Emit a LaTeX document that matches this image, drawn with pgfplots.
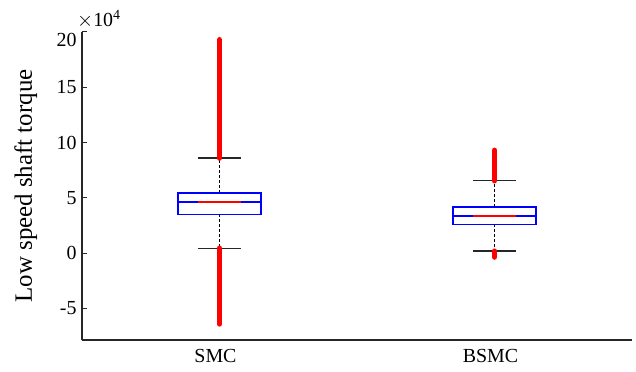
\documentclass[border=0pt]{standalone}
\usepackage{fontspec}
\setmainfont{Liberation Serif}
\usepackage{pgfplots}
\pgfplotsset{compat=1.18}
\usepgfplotslibrary{statistics}
\usetikzlibrary{calc}

\pgfplotsset{
  mybox/.style={
    /pgfplots/boxplot/draw direction=y,
    /pgfplots/boxplot/box extend=0.3,
    /pgfplots/boxplot/whisker extend=0.155,
    /pgfplots/boxplot/draw/median/.code={%
      \draw[draw=blue, line width=2bp] (boxplot box cs:\pgfplotsboxplotvalue{median},0) -- (boxplot box cs:\pgfplotsboxplotvalue{median},1);
      \draw[draw=red, line width=2bp] (boxplot whisker cs:\pgfplotsboxplotvalue{median},0) -- (boxplot whisker cs:\pgfplotsboxplotvalue{median},1);
    },
    /pgfplots/boxplot/draw/lower whisker/.code={%
      \draw[black, line width=1bp, dash pattern=on 3bp off 2bp] (boxplot cs:\pgfplotsboxplotvalue{lower quartile}) -- (boxplot cs:\pgfplotsboxplotvalue{lower whisker});
      \draw[black!85, line width=1.4bp] (boxplot whisker cs:\pgfplotsboxplotvalue{lower whisker},0) -- (boxplot whisker cs:\pgfplotsboxplotvalue{lower whisker},1);
    },
    /pgfplots/boxplot/draw/upper whisker/.code={%
      \draw[black, line width=1bp, dash pattern=on 3bp off 2bp] (boxplot cs:\pgfplotsboxplotvalue{upper quartile}) -- (boxplot cs:\pgfplotsboxplotvalue{upper whisker});
      \draw[black!85, line width=1.4bp] (boxplot whisker cs:\pgfplotsboxplotvalue{upper whisker},0) -- (boxplot whisker cs:\pgfplotsboxplotvalue{upper whisker},1);
    },
  }
}

\begin{document}
\begin{tikzpicture}
\begin{axis}[
  name=ax,
  scale only axis,
  width=550bp, height=308bp,
  xmin=0.5, xmax=2.5,
  ymin=-7.85, ymax=20,
  axis lines*=left,
  axis line style={line width=1.4bp, black!85},
  xtick={1,2}, xticklabels={SMC,BSMC},
  x tick style={draw=none},
  ytick={-5,0,5,10,15,20},
  yticklabels={-5,0,5,10,15,\raisebox{-8bp}[\height][\depth]{20}},
  y tick style={line width=1bp, black!85},
  tick align=inside,
  major tick length=5bp,
  tick label style={font=\fontsize{20}{22}\selectfont},
  yticklabel style={xshift=-2bp},
  xticklabel style={yshift=-6bp, xshift=-4bp},
  ylabel={Low speed shaft torque},
  ylabel style={font=\fontsize{25}{27}\selectfont, at={(axis description cs:-0.075,0.5)}, anchor=south},
  clip=false,
]
% SMC
\addplot[draw=blue, line width=1.8bp, solid, mark=none, mybox,
  boxplot prepared={draw position=1, lower whisker=0.45, lower quartile=3.5,
    median=4.6, upper quartile=5.45, upper whisker=8.6}] coordinates {};
% BSMC
\addplot[draw=blue, line width=1.8bp, solid, mark=none, mybox,
  boxplot prepared={draw position=2, lower whisker=0.18, lower quartile=2.6,
    median=3.4, upper quartile=4.15, upper whisker=6.55}] coordinates {};
% outliers (dense red points)
\addplot[red, line width=5.5bp, line cap=round] coordinates {(1,8.6) (1,19.3)};
\addplot[red, line width=5.5bp, line cap=round] coordinates {(1,0.45) (1,-6.4)};
\addplot[red, line width=5.5bp, line cap=round] coordinates {(2,6.55) (2,9.3)};
\addplot[red, line width=5.5bp, line cap=round] coordinates {(2,0.18) (2,-0.35)};
\node[anchor=base west, inner sep=0pt, font=\fontsize{20}{22}\selectfont] at ($(rel axis cs:0,1)+(-5bp,5bp)$) {$\times$10\textsuperscript{4}};
\end{axis}
\pgfresetboundingbox
\useasboundingbox ($(ax.south west)+(-82bp,-32bp)$) rectangle ($(ax.north east)+(4bp,32bp)$);
\end{tikzpicture}
\end{document}
